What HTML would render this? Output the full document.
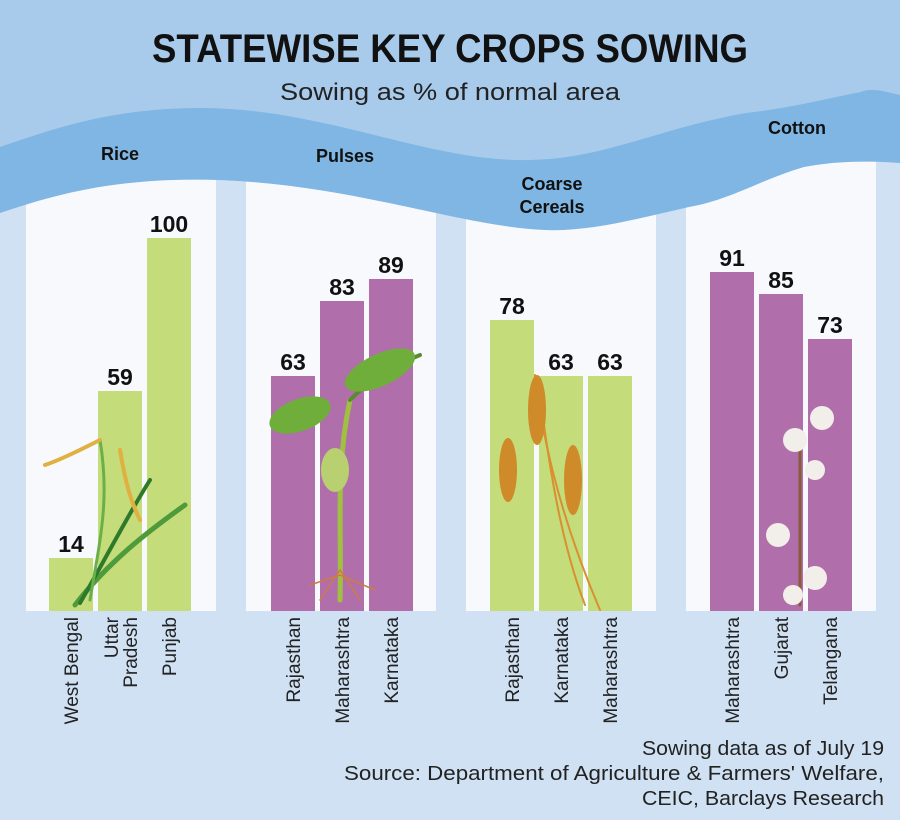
<!DOCTYPE html>
<html><head><meta charset="utf-8"><style>
html,body{margin:0;padding:0;background:#cfe1f3;}
svg{display:block;}
text{font-family:"Liberation Sans Narrow","Liberation Sans",sans-serif;}
.b{font-weight:bold;fill:#111;}
.c{font-size:19px;fill:#222;}
</style></head><body>
<svg width="900" height="820" viewBox="0 0 900 820" xmlns="http://www.w3.org/2000/svg">
<rect width="900" height="820" fill="#cfe1f3"/>
<!-- panels -->
<rect x="26" y="100" width="190" height="511" fill="#f7f9fd"/>
<rect x="246" y="100" width="190" height="511" fill="#f7f9fd"/>
<rect x="466" y="100" width="190" height="511" fill="#f7f9fd"/>
<rect x="686" y="100" width="190" height="511" fill="#f7f9fd"/>
<!-- wave -->
<path d="M0,0 H900 V163 C860,160 830,162 804,167 C760,180 730,200 689,207 C640,218 590,232 545,230 C450,226 330,175 172,180 C90,183 40,200 0,213 Z" fill="#7fb6e3"/>
<path d="M0,0 H900 V95 C880,90 870,88 861,92 C820,100 790,108 746,113 C650,130 600,162 517,160 C420,158 320,108 201,108 C110,108 50,130 0,147 Z" fill="#a8cbec"/>
<text x="450" y="62" text-anchor="middle" class="b" font-size="40" textLength="596" lengthAdjust="spacingAndGlyphs">STATEWISE KEY CROPS SOWING</text>
<text x="450" y="100" text-anchor="middle" font-size="24" fill="#222" textLength="340" lengthAdjust="spacingAndGlyphs">Sowing as % of normal area</text>
<g class="b" font-size="18" text-anchor="middle">
<text x="120" y="160">Rice</text>
<text x="345" y="162">Pulses</text>
<text x="552" y="190">Coarse</text>
<text x="552" y="213">Cereals</text>
<text x="797" y="134">Cotton</text>
</g>
<!-- bars -->
<g fill="#c5dc7b">
<rect x="49" y="558" width="44" height="53"/>
<rect x="98" y="391" width="44" height="220"/>
<rect x="147" y="238" width="44" height="373"/>
<rect x="490" y="320" width="44" height="291"/>
<rect x="539" y="376" width="44" height="235"/>
<rect x="588" y="376" width="44" height="235"/>
</g>
<g fill="#b06faa">
<rect x="271" y="376" width="44" height="235"/>
<rect x="320" y="301" width="44" height="310"/>
<rect x="369" y="279" width="44" height="332"/>
<rect x="710" y="272" width="44" height="339"/>
<rect x="759" y="294" width="44" height="317"/>
<rect x="808" y="339" width="44" height="272"/>
</g>
<!-- simple illustrations -->
<g fill="none" stroke-linecap="round">
<path d="M75,605 C110,560 150,530 185,505" stroke="#4f9a3a" stroke-width="5"/>
<path d="M80,603 C105,560 125,520 150,480" stroke="#2f7a2a" stroke-width="4"/>
<path d="M90,600 C100,540 110,500 100,440" stroke="#6ab04a" stroke-width="3"/>
<path d="M100,440 C80,450 60,460 45,465" stroke="#e0b040" stroke-width="4"/>
<path d="M120,450 C125,480 130,500 140,520" stroke="#e0b040" stroke-width="4"/>
<path d="M340,600 C342,530 335,470 350,400" stroke="#a0c040" stroke-width="5"/>
<path d="M350,400 C370,380 395,365 420,355" stroke="#5b8a30" stroke-width="4"/>
<path d="M320,600 L340,570 L360,600 M310,585 L340,575 L375,590" stroke="#d07a40" stroke-width="1.5"/>
<path d="M535,375 C545,460 570,540 600,610" stroke="#d89030" stroke-width="2"/>
<path d="M538,380 C548,460 560,540 585,605" stroke="#d89030" stroke-width="2"/>
<path d="M800,435 L800,605" stroke="#8a5a3a" stroke-width="3"/>
</g>
<g fill="#cf8a2a">
<ellipse cx="537" cy="410" rx="9" ry="35"/>
<ellipse cx="508" cy="470" rx="9" ry="32"/>
<ellipse cx="573" cy="480" rx="9" ry="35"/>
</g>
<g fill="#6fae3a">
<ellipse cx="300" cy="415" rx="32" ry="16" transform="rotate(-20 300 415)"/>
<ellipse cx="380" cy="370" rx="38" ry="16" transform="rotate(-25 380 370)"/>
<ellipse cx="335" cy="470" rx="14" ry="22" fill="#b8d070"/>
</g>
<g fill="#f2eeea">
<circle cx="795" cy="440" r="12"/><circle cx="822" cy="418" r="12"/>
<circle cx="815" cy="470" r="10"/><circle cx="778" cy="535" r="12"/>
<circle cx="815" cy="578" r="12"/><circle cx="793" cy="595" r="10"/>
</g>
<!-- values -->
<g class="b" font-size="23" text-anchor="middle">
<text x="71" y="552">14</text>
<text x="120" y="385">59</text>
<text x="169" y="232">100</text>
<text x="293" y="370">63</text>
<text x="342" y="295">83</text>
<text x="391" y="273">89</text>
<text x="512" y="314">78</text>
<text x="561" y="370">63</text>
<text x="610" y="370">63</text>
<text x="732" y="266">91</text>
<text x="781" y="288">85</text>
<text x="830" y="333">73</text>
</g>
<!-- category labels -->
<g class="c" text-anchor="end">
<text transform="translate(78,617) rotate(-90)">West Bengal</text>
<text transform="translate(118,617) rotate(-90)">Uttar</text>
<text transform="translate(137,617) rotate(-90)">Pradesh</text>
<text transform="translate(176,617) rotate(-90)">Punjab</text>
<text transform="translate(300,617) rotate(-90)">Rajasthan</text>
<text transform="translate(349,617) rotate(-90)">Maharashtra</text>
<text transform="translate(398,617) rotate(-90)">Karnataka</text>
<text transform="translate(519,617) rotate(-90)">Rajasthan</text>
<text transform="translate(568,617) rotate(-90)">Karnataka</text>
<text transform="translate(617,617) rotate(-90)">Maharashtra</text>
<text transform="translate(739,617) rotate(-90)">Maharashtra</text>
<text transform="translate(788,617) rotate(-90)">Gujarat</text>
<text transform="translate(837,617) rotate(-90)">Telangana</text>
</g>
<g font-size="20" fill="#222" text-anchor="end" font-family="Liberation Sans, sans-serif">
<text x="884" y="755" textLength="242" lengthAdjust="spacingAndGlyphs">Sowing data as of July 19</text>
<text x="884" y="780" textLength="540" lengthAdjust="spacingAndGlyphs">Source: Department of Agriculture &amp; Farmers' Welfare,</text>
<text x="884" y="805" textLength="242" lengthAdjust="spacingAndGlyphs">CEIC, Barclays Research</text>
</g>
</svg>
</body></html>
